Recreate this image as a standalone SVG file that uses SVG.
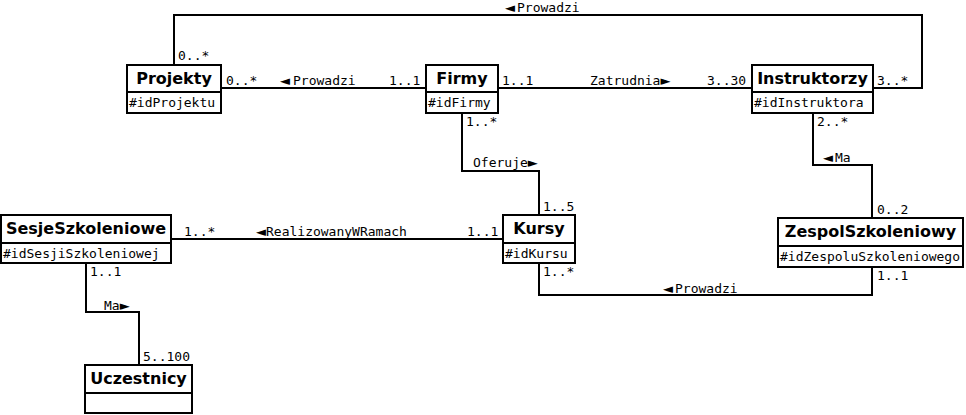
<svg xmlns="http://www.w3.org/2000/svg" width="966" height="415" viewBox="0 0 966 415">
<style>
.box{fill:#fff;stroke:#000;stroke-width:2}
.hd{font-family:"DejaVu Sans",sans-serif;font-weight:bold;font-size:16px;text-anchor:middle;fill:#000}
.at{font-family:"DejaVu Sans Mono",monospace;font-size:13px;fill:#000}
.lb{font-family:"DejaVu Sans Mono",monospace;font-size:13px;fill:#000}
.ar{font-family:"DejaVu Sans",sans-serif}
.ln{fill:none;stroke:#000;stroke-width:2}
</style>
<rect width="966" height="415" fill="#fff"/>
<g id="connectors">
<polyline class="ln" points="174,65 174,15 922,15 922,88 873,88"/>
<line class="ln" x1="221" y1="88" x2="426" y2="88"/>
<line class="ln" x1="498" y1="88" x2="752" y2="88"/>
<polyline class="ln" points="462,113 462,171 539,171 539,215"/>
<line class="ln" x1="171" y1="239" x2="503" y2="239"/>
<polyline class="ln" points="539,263 539,295 872,295 872,267"/>
<polyline class="ln" points="813,113 813,165 872,165 872,218"/>
<polyline class="ln" points="86,263 86,312 139,312 139,365"/>
<text class="lb" x="505" y="12"><tspan class="ar">◄</tspan><tspan dx="2">Prowadzi</tspan></text>
<text class="lb" x="178" y="60">0..*</text>
<text class="lb" x="877" y="85">3..*</text>
<text class="lb" x="226" y="85">0..*</text>
<text class="lb" x="280" y="85"><tspan class="ar">◄</tspan><tspan dx="3">Prowadzi</tspan></text>
<text class="lb" x="389" y="85">1..1</text>
<text class="lb" x="502" y="85">1..1</text>
<text class="lb" x="590" y="85">Zatrudnia<tspan class="ar">►</tspan></text>
<text class="lb" x="707" y="85">3..30</text>
<text class="lb" x="466" y="126">1..*</text>
<text class="lb" x="473" y="167">Oferuje<tspan class="ar">►</tspan></text>
<text class="lb" x="543" y="211">1..5</text>
<text class="lb" x="184" y="236">1..*</text>
<text class="lb" x="256" y="236"><tspan class="ar">◄</tspan>RealizowanyWRamach</text>
<text class="lb" x="467" y="236">1..1</text>
<text class="lb" x="543" y="276">1..*</text>
<text class="lb" x="663" y="293"><tspan class="ar">◄</tspan><tspan dx="2">Prowadzi</tspan></text>
<text class="lb" x="877" y="280">1..1</text>
<text class="lb" x="817" y="126">2..*</text>
<text class="lb" x="823" y="162"><tspan class="ar">◄</tspan><tspan dx="2">Ma</tspan></text>
<text class="lb" x="877" y="214">0..2</text>
<text class="lb" x="90" y="276">1..1</text>
<text class="lb" x="104" y="310">Ma<tspan class="ar">►</tspan></text>
<text class="lb" x="143" y="361">5..100</text>
</g>
<g id="Projekty">
<rect class="box" x="127" y="65" width="94" height="48"/>
<line class="ln" x1="127" y1="92" x2="221" y2="92"/>
<text class="hd" x="174" y="84">Projekty</text>
<text class="at" x="129" y="107">#idProjektu</text>
</g>
<g id="Firmy">
<rect class="box" x="426" y="65" width="72" height="48"/>
<line class="ln" x1="426" y1="92" x2="498" y2="92"/>
<text class="hd" x="462" y="84">Firmy</text>
<text class="at" x="428" y="107">#idFirmy</text>
</g>
<g id="Instruktorzy">
<rect class="box" x="752" y="65" width="121" height="48"/>
<line class="ln" x1="752" y1="92" x2="873" y2="92"/>
<text class="hd" x="812.5" y="84">Instruktorzy</text>
<text class="at" x="754" y="107">#idInstruktora</text>
</g>
<g id="SesjeSzkoleniowe">
<rect class="box" x="1" y="215" width="170" height="48"/>
<line class="ln" x1="1" y1="243" x2="171" y2="243"/>
<text class="hd" x="86" y="234">SesjeSzkoleniowe</text>
<text class="at" x="3" y="258">#idSesjiSzkoleniowej</text>
</g>
<g id="Kursy">
<rect class="box" x="503" y="215" width="72" height="48"/>
<line class="ln" x1="503" y1="243" x2="575" y2="243"/>
<text class="hd" x="539" y="234">Kursy</text>
<text class="at" x="505" y="258">#idKursu</text>
</g>
<g id="ZespolSzkoleniowy">
<rect class="box" x="778" y="218" width="185" height="49"/>
<line class="ln" x1="778" y1="246" x2="963" y2="246"/>
<text class="hd" x="870.5" y="237">ZespolSzkoleniowy</text>
<text class="at" x="780" y="261">#idZespoluSzkoleniowego</text>
</g>
<g id="Uczestnicy">
<rect class="box" x="85" y="365" width="107" height="48"/>
<line class="ln" x1="85" y1="393" x2="192" y2="393"/>
<text class="hd" x="138.5" y="384">Uczestnicy</text>
</g>
</svg>
